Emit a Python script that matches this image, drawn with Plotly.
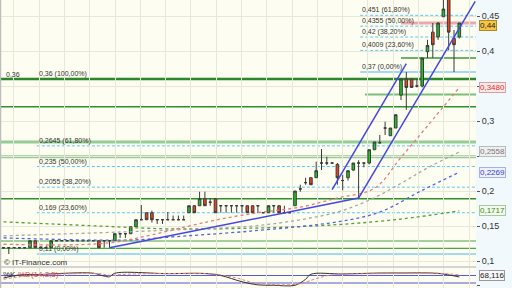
import plotly.graph_objects as go

# ---------------- data ----------------
idx = list(range(87))
opens = [0.119, 0.119, 0.119, 0.119, 0.119, 0.119, 0.129, 0.119, 0.119, 0.119,
         0.129, 0.129, 0.129, 0.129, 0.129, 0.129, 0.129, 0.129, 0.129, 0.129,
         0.129, 0.129, 0.139, 0.139, 0.139, 0.149, 0.159, 0.169, 0.169, 0.159,
         0.159, 0.159, 0.159, 0.159, 0.159, 0.169, 0.179, 0.179, 0.189, 0.184,
         0.189, 0.179, 0.179, 0.179, 0.179, 0.179, 0.179, 0.179, 0.179, 0.169,
         0.169, 0.179, 0.179, 0.169, 0.169, 0.179, 0.203, 0.212, 0.219, 0.219,
         0.240, 0.240, 0.240, 0.238, 0.215, 0.219, 0.230, 0.240, 0.240, 0.240,
         0.259, 0.269, 0.290, 0.279, 0.290, 0.337, 0.360, 0.360, 0.350, 0.350,
         0.399, 0.427, 0.420, 0.449, 0.480, 0.418, 0.420]
closes = [0.119, 0.119, 0.119, 0.119, 0.119, 0.129, 0.119, 0.119, 0.119, 0.129,
          0.129, 0.129, 0.129, 0.129, 0.129, 0.129, 0.129, 0.129, 0.119, 0.129,
          0.129, 0.139, 0.139, 0.139, 0.149, 0.159, 0.159, 0.159, 0.159, 0.159,
          0.159, 0.159, 0.159, 0.159, 0.159, 0.179, 0.169, 0.189, 0.179, 0.184,
          0.169, 0.179, 0.179, 0.179, 0.179, 0.179, 0.169, 0.169, 0.179, 0.169,
          0.179, 0.179, 0.169, 0.169, 0.169, 0.200, 0.203, 0.212, 0.209, 0.229,
          0.240, 0.240, 0.240, 0.219, 0.215, 0.229, 0.240, 0.240, 0.240, 0.259,
          0.270, 0.269, 0.290, 0.290, 0.309, 0.360, 0.348, 0.348, 0.350, 0.390,
          0.408, 0.409, 0.440, 0.460, 0.427, 0.409, 0.440]
highs = [0.120, 0.119, 0.119, 0.119, 0.119, 0.129, 0.129, 0.119, 0.119, 0.129,
         0.129, 0.129, 0.129, 0.129, 0.129, 0.129, 0.129, 0.129, 0.129, 0.129,
         0.129, 0.139, 0.139, 0.139, 0.149, 0.159, 0.180, 0.169, 0.172, 0.159,
         0.159, 0.170, 0.165, 0.165, 0.165, 0.179, 0.179, 0.199, 0.199, 0.190,
         0.190, 0.179, 0.179, 0.179, 0.179, 0.179, 0.179, 0.179, 0.179, 0.169,
         0.179, 0.179, 0.179, 0.179, 0.169, 0.200, 0.209, 0.219, 0.219, 0.242,
         0.260, 0.249, 0.241, 0.240, 0.223, 0.229, 0.240, 0.244, 0.240, 0.259,
         0.270, 0.280, 0.299, 0.290, 0.309, 0.360, 0.370, 0.360, 0.360, 0.390,
         0.416, 0.440, 0.441, 0.475, 0.500, 0.430, 0.440]
lows = [0.118, 0.110, 0.119, 0.119, 0.119, 0.119, 0.119, 0.119, 0.119, 0.119,
        0.129, 0.129, 0.129, 0.129, 0.129, 0.129, 0.129, 0.129, 0.119, 0.119,
        0.119, 0.129, 0.133, 0.133, 0.139, 0.149, 0.159, 0.159, 0.155, 0.153,
        0.153, 0.159, 0.159, 0.159, 0.159, 0.169, 0.169, 0.179, 0.179, 0.179,
        0.169, 0.169, 0.169, 0.169, 0.169, 0.169, 0.169, 0.169, 0.169, 0.169,
        0.169, 0.169, 0.169, 0.169, 0.169, 0.179, 0.199, 0.209, 0.209, 0.219,
        0.230, 0.237, 0.239, 0.209, 0.201, 0.215, 0.229, 0.190, 0.234, 0.238,
        0.259, 0.268, 0.280, 0.279, 0.290, 0.330, 0.316, 0.348, 0.348, 0.348,
        0.390, 0.390, 0.416, 0.449, 0.401, 0.370, 0.418]

ma_red_x = [0, 11, 20, 26, 35, 41, 48, 56, 63, 70, 75, 80, 86]
ma_red_y = [0.124, 0.123, 0.126, 0.134, 0.150, 0.160, 0.169, 0.177, 0.190, 0.204, 0.248, 0.293, 0.348]
ma_gray_x = [0, 31, 47, 56, 63, 69, 75, 80, 86]
ma_gray_y = [0.136, 0.144, 0.150, 0.159, 0.170, 0.187, 0.211, 0.233, 0.2558]
ma_blue_x = [0, 24, 31, 47, 63, 71, 79, 86]
ma_blue_y = [0.133, 0.130, 0.134, 0.143, 0.156, 0.170, 0.201, 0.2269]
ma_green_x = [0, 18, 31, 47, 63, 75, 86]
ma_green_y = [0.156, 0.150, 0.146, 0.147, 0.152, 0.160, 0.1717]

# trend lines (start/end points)
trend_long_x = [20, 67]
trend_long_y = [0.119, 0.190]
channel_low_x = [67, 89]
channel_low_y = [0.190, 0.471]
channel_up_x = [62, 76]
channel_up_y = [0.202, 0.382]

# Fibonacci retracement sets
fib1_levels = [0.2645, 0.235, 0.2055, 0.169]
fib1_labels = ["0,2645 (61,80%)", "0,235 (50,00%)", "0,2055 (38,20%)", "0,169 (23,60%)"]
fib1_top, fib1_top_label = 0.36, "0,36 (100,00%)"
fib1_base, fib1_base_label = 0.11, "0,11 (0,00%)"
fib1_start = 6.3
fib2_levels = [0.451, 0.4355, 0.42, 0.4009]
fib2_labels = ["0,451 (61,80%)", "0,4355 (50,00%)", "0,42 (38,20%)", "0,4009 (23,60%)"]
fib2_base, fib2_base_label = 0.37, "0,37 (0,00%)"
fib2_start = 67.3

# horizontal support / resistance lines
dark_levels = [0.3205, 0.189]
light_levels = [0.27, 0.249]
low_levels = [0.1286, 0.118]
partial_levels = [(0.338, 68.2), (0.39, 75.0)]
last_price = 0.44

# price axis ticks (0,35 and 0,25 are hidden under value tags in the original)
y_ticks = [0.1, 0.15, 0.2, 0.25, 0.3, 0.35, 0.4, 0.45]
y_ticktext = ["0,1", "0,15", "0,2", "", "0,3", "", "0,4", "0,45"]

# stochastic
stoch_k_x = [0, 3, 7, 11, 17, 19, 20, 21, 31, 38, 41, 45, 48, 51, 55, 57, 58, 64, 70, 75, 82, 86]
stoch_k_y = [60, 85, 88, 97, 98, 75, 70, 98, 95, 96, 80, 30, 5, 2, 2, 50, 90, 92, 99, 100, 97, 68.116]
stoch_d_x = [0, 5, 11, 18, 20, 23, 31, 40, 44, 47, 52, 56, 59, 62, 71, 82, 86]
stoch_d_y = [50, 80, 92, 95, 82, 90, 96, 90, 60, 25, 5, 15, 55, 85, 95, 98, 85]

# right-side value tags
tags = [(0.44, "0,44", "#222222", "#f5c445", "#b08a20", "y", -2),
        (0.348, "0,3480", "#e03030", "#fbe9e9", "#d8a0a0", "y", 0),
        (0.2558, "0,2558", "#777777", "#efefef", "#bbbbbb", "y", 0),
        (0.2269, "0,2269", "#3340d8", "#eef0fc", "#a8b0e8", "y", 0),
        (0.1717, "0,1717", "#3a8a20", "#f3f9ee", "#a8c898", "y", 0),
        (68.116, "68,116", "#222222", "#f7f7f7", "#999999", "y2", 1)]

XR = [-0.66, 89.15]
YR = [0.0929, 0.4729]

fig = go.Figure()

fig.add_trace(go.Candlestick(
    x=idx, open=opens, high=highs, low=lows, close=closes,
    increasing=dict(fillcolor="#22c022", line=dict(color="#3a3a3a", width=1)),
    decreasing=dict(fillcolor="#e8441a", line=dict(color="#3a3a3a", width=1)),
    whiskerwidth=0, showlegend=False, hoverinfo="skip"))

for xs, ys, col in [(ma_green_x, ma_green_y, "#5d9c3c"), (ma_blue_x, ma_blue_y, "#5566dd"),
                    (ma_gray_x, ma_gray_y, "#a8a8a8"), (ma_red_x, ma_red_y, "#e77a7a")]:
    fig.add_trace(go.Scatter(x=xs, y=ys, mode="lines", line=dict(color=col, width=1.3, dash="3px,3px", shape="spline"),
                             showlegend=False, hoverinfo="skip"))

for xs, ys in [(trend_long_x, trend_long_y), (channel_low_x, channel_low_y), (channel_up_x, channel_up_y)]:
    fig.add_trace(go.Scatter(x=xs, y=ys, mode="lines", line=dict(color="#4646e6", width=1.5),
                             showlegend=False, hoverinfo="skip", cliponaxis=True))

# stochastic
fig.add_trace(go.Scatter(x=stoch_k_x, y=stoch_k_y, xaxis="x2", yaxis="y2", mode="lines",
                         line=dict(color="#333333", width=1, shape="spline"), showlegend=False, hoverinfo="skip"))
fig.add_trace(go.Scatter(x=stoch_d_x, y=stoch_d_y, xaxis="x2", yaxis="y2", mode="lines",
                         line=dict(color="#e88080", width=1, dash="3px,2px", shape="spline"), showlegend=False, hoverinfo="skip"))

shapes = []
def hline(y, x0, x1, color, width, dash="solid", yref="y", xref="x"):
    shapes.append(dict(type="line", xref=xref, yref=yref, x0=x0, x1=x1, y0=y, y1=y,
                       line=dict(color=color, width=width, dash=dash), layer="below"))

for lv in light_levels:
    hline(lv, XR[0], XR[1], "#96cc96", 3)
for lv in dark_levels:
    hline(lv, XR[0], XR[1], "#2f8f2f", 1.5)
for lv in low_levels:
    hline(lv, XR[0], XR[1], "#48a848", 1.2)
for lv, x0 in partial_levels:
    hline(lv, x0, XR[1], "#7cbf7c" if lv < 0.35 else "#3a9a3a", 2 if lv < 0.35 else 1.5)
hline(fib1_top, XR[0], XR[1], "#2a882a", 2.5)
hline(fib1_base, fib1_start, XR[1], "#84cdf2", 1.5)
for lv in fib1_levels:
    hline(lv, fib1_start, XR[1], "#5cc8f8", 1, "3px,2px")
hline(fib2_base, fib2_start, XR[1], "#84cdf2", 1.5)
for lv in fib2_levels:
    hline(lv, fib2_start, XR[1], "#5cc8f8", 1, "3px,2px")
hline(last_price, 75.0, XR[1], "#f2a6a6", 3)
# stochastic bands
hline(80, XR[0], XR[1], "#5a5ad8", 1.2, yref="y2", xref="x2")
hline(20, XR[0], XR[1], "#5a5ad8", 1.2, yref="y2", xref="x2")
# separator and left border
shapes.append(dict(type="rect", xref="paper", yref="paper", x0=0, x1=1, y0=0.0694, y1=0.0764,
                   fillcolor="#d4d4d4", line=dict(width=0)))
shapes.append(dict(type="line", xref="paper", yref="paper", x0=0.001, x1=0.001, y0=0, y1=1,
                   line=dict(color="#bdbdbd", width=1.5)))

ann = []
lab_font = dict(family="Liberation Sans", size=7, color="#333333")
for lv, t in zip(fib1_levels + [fib1_top, fib1_base], fib1_labels + [fib1_top_label, fib1_base_label]):
    ann.append(dict(x=fib1_start, y=lv, xref="x", yref="y", text=t, showarrow=False,
                    xanchor="left", yanchor="bottom", font=lab_font, yshift=-1))
for lv, t in zip(fib2_levels + [fib2_base], fib2_labels + [fib2_base_label]):
    ann.append(dict(x=fib2_start, y=lv, xref="x", yref="y", text=t, showarrow=False,
                    xanchor="left", yanchor="bottom", font=lab_font, yshift=-1))
ann.append(dict(x=0.0, y=fib1_top, xref="x", yref="y", text="0,36", showarrow=False,
                xanchor="left", yanchor="bottom", font=lab_font, yshift=-1))
ann.append(dict(x=0.004, y=0.0972, xref="paper", yref="y", text="© IT-Finance.com", showarrow=False,
                xanchor="left", yanchor="middle", font=dict(family="Liberation Sans", size=8, color="#333333")))
ann.append(dict(x=0.002, y=92, xref="paper", yref="y2", text="%K", showarrow=False,
                xanchor="left", yanchor="middle", font=dict(family="Liberation Sans", size=8, color="#333333")))
ann.append(dict(x=0.034, y=92, xref="paper", yref="y2", text="%D(14,3,5)", showarrow=False,
                xanchor="left", yanchor="middle", font=dict(family="Liberation Sans", size=8, color="#e05050")))
for val, t, fc, bg, bc, yr, ys in tags:
    ann.append(dict(x=1.006, y=val, xref="paper", yref=yr, text=t, showarrow=False, yshift=ys,
                    xanchor="left", yanchor="middle", bgcolor=bg, bordercolor=bc, borderwidth=1, borderpad=0,
                    font=dict(family="Liberation Sans", size=8, color=fc)))

fig.update_layout(
    width=512, height=288, margin=dict(l=0, r=36, t=0, b=0),
    paper_bgcolor="#f2f9fc", plot_bgcolor="#fdfdf1",
    separators=", ", showlegend=False,
    shapes=shapes, annotations=ann,
    xaxis=dict(range=XR, domain=[0, 1], anchor="y", showticklabels=False, ticks="",
               showgrid=True, gridcolor="#e8e8da", tick0=1.98, dtick=4.77, zeroline=False,
               rangeslider=dict(visible=False), fixedrange=True),
    yaxis=dict(range=YR, domain=[0.0764, 1], side="right", anchor="x", tickvals=y_ticks, ticktext=y_ticktext,
               showgrid=True, gridcolor="#e8e8da", zeroline=False, ticks="outside", ticklen=3,
               tickcolor="#555555", tickfont=dict(family="Liberation Sans", size=9, color="#333333")),
    xaxis2=dict(range=XR, domain=[0, 1], anchor="y2", matches="x", showticklabels=False, ticks="",
                showgrid=True, gridcolor="#e8e8da", tick0=1.98, dtick=4.77, zeroline=False),
    yaxis2=dict(range=[-20, 140], domain=[0, 0.0694], side="right", anchor="x2", tickvals=[0],
                ticktext=["0"], showgrid=False, zeroline=False, ticks="outside", ticklen=3,
                tickcolor="#555555", tickfont=dict(family="Liberation Sans", size=8, color="#333333")),
)

fig.write_html("out.html")
